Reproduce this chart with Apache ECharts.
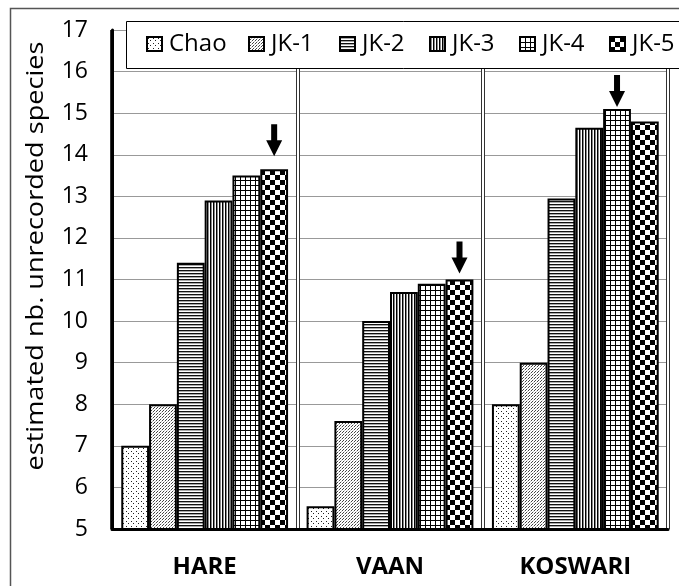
<!DOCTYPE html>
<html>
<head>
<meta charset="utf-8">
<script src="https://cdn.jsdelivr.net/npm/echarts@6/dist/echarts.min.js"></script>
<style>
html,body{margin:0;padding:0;background:#fff;}
#chart{width:679px;height:586px;}
</style>
</head>
<body>
<div id="chart"></div>
<script>
// ---- data ----
const categories = ['HARE', 'VAAN', 'KOSWARI'];
const seriesNames = ['Chao', 'JK-1', 'JK-2', 'JK-3', 'JK-4', 'JK-5'];
const chao = [7.0, 5.55, 8.0];
const jk1 = [8.0, 7.6, 9.0];
const jk2 = [11.4, 10.0, 12.95];
const jk3 = [12.9, 10.7, 14.65];
const jk4 = [13.5, 10.9, 15.1];
const jk5 = [13.65, 11.0, 14.8];
const yTicks = { min: 5, max: 17, interval: 1 };
// arrows: [series name, category, value]
const arrowMarks = [
  ['JK-5', 'HARE', 13.65],
  ['JK-5', 'VAAN', 11.0],
  ['JK-4', 'KOSWARI', 15.1]
];

// ---- patterns ----
function makePattern(w, h, draw) {
  const c = document.createElement('canvas');
  c.width = w; c.height = h;
  const ctx = c.getContext('2d');
  ctx.fillStyle = '#fff';
  ctx.fillRect(0, 0, w, h);
  ctx.fillStyle = '#000';
  draw(ctx);
  return { image: c, repeat: 'repeat' };
}
const patterns = [
  // Chao: sparse dots
  makePattern(5, 5, ctx => { ctx.fillStyle = '#222'; ctx.fillRect(1, 1, 1, 1); ctx.fillRect(3, 3, 1, 1); }),
  // JK-1: dense dots
  makePattern(3, 3, ctx => { ctx.fillStyle = '#444'; ctx.fillRect(0, 0, 1, 1); ctx.fillRect(1, 2, 1, 1); ctx.fillStyle = '#bbb'; ctx.fillRect(2, 1, 1, 1); }),
  // JK-2: horizontal lines
  makePattern(2, 3, ctx => { ctx.fillStyle = '#111'; ctx.fillRect(0, 0, 2, 1); ctx.fillStyle = '#aaa'; ctx.fillRect(0, 1, 2, 1); }),
  // JK-3: vertical lines
  makePattern(3, 2, ctx => { ctx.fillStyle = '#000'; ctx.fillRect(0, 0, 1, 2); ctx.fillStyle = '#888'; ctx.fillRect(1, 0, 1, 2); }),
  // JK-4: grid
  makePattern(5, 5, ctx => { ctx.fillStyle = '#000'; ctx.fillRect(0, 0, 5, 1); ctx.fillRect(0, 0, 1, 5); }),
  // JK-5: checkerboard
  makePattern(10, 10, ctx => { ctx.fillStyle = '#000'; ctx.fillRect(0, 0, 5, 5); ctx.fillRect(5, 5, 5, 5); })
];

const values = [chao, jk1, jk2, jk3, jk4, jk5];
const arrowPath = 'path://M5,0L11,0L11,16L16,16L8,32L0,16L5,16Z';
const arrowOffsets = { HARE: -29, VAAN: -22, KOSWARI: -18 };
const legendLefts = [146, 248, 339, 429, 519, 609];

const FONT = '"Open Sans", "DejaVu Sans", sans-serif';

const series = seriesNames.map((name, i) => {
  const s = {
    name: name,
    type: 'bar',
    xAxisIndex: 0,
    yAxisIndex: 0,
    data: values[i],
    barGap: '0%',
    barCategoryGap: '10%',
    itemStyle: { color: patterns[i], borderColor: '#000', borderWidth: 2 },
    emphasis: { disabled: true },
    animation: false
  };
  const marks = arrowMarks.filter(a => a[0] === name);
  if (marks.length) {
    s.markPoint = {
      animation: false,
      data: marks.map(a => ({
        coord: [a[1], a[2]],
        symbol: arrowPath,
        symbolSize: [16, 32],
        symbolOffset: [0, arrowOffsets[a[1]]],
        itemStyle: { color: '#000' },
        label: { show: false }
      }))
    };
  }
  return s;
});

const legends = seriesNames.map((name, i) => ({
  data: [name],
  left: legendLefts[i],
  top: 32,
  padding: 0,
  z: 6,
  itemWidth: 15,
  itemHeight: 14,
  itemGap: 0,
  icon: 'rect',
  textStyle: { fontFamily: FONT, fontSize: 24, lineHeight: 24, color: '#000', padding: [0, 0, 0, 2] },
  selectedMode: false
}));

const chart = echarts.init(document.getElementById('chart'), null, { renderer: 'canvas' });
chart.setOption({
  backgroundColor: '#fff',
  animation: false,
  textStyle: { fontFamily: FONT },
  grid: { left: 112, right: 11, top: 30, bottom: 57, containLabel: false },
  legend: legends,
  xAxis: [
    {
      type: 'category',
      data: categories,
      position: 'bottom',
      axisLine: { show: true, lineStyle: { color: '#000', width: 3 } },
      axisTick: { show: false },
      axisLabel: { fontFamily: FONT, fontSize: 24, fontWeight: 'bold', color: '#000', margin: 26 },
      splitLine: { show: true, lineStyle: { color: '#333', width: 4 } }
    },
    {
      type: 'category',
      data: categories,
      position: 'top',
      axisLine: { show: false },
      axisTick: { show: false },
      axisLabel: { show: false },
      splitLine: { show: true, lineStyle: { color: '#fff', width: 2 } }
    }
  ],
  yAxis: {
    type: 'value',
    min: yTicks.min,
    max: yTicks.max,
    interval: yTicks.interval,
    axisLine: { show: true, lineStyle: { color: '#000', width: 3 } },
    axisTick: { show: false },
    axisLabel: { fontFamily: FONT, fontSize: 23, color: '#000', margin: 24 },
    splitLine: { show: true, lineStyle: { color: '#999', width: 1 } }
  },
  graphic: [
    {
      type: 'rect',
      z: -10,
      silent: true,
      shape: { x: 10.5, y: 8.5, width: 700, height: 600 },
      style: { fill: null, stroke: '#555', lineWidth: 1.5 }
    },
    {
      type: 'rect',
      z: 5,
      silent: true,
      shape: { x: 126.5, y: 21.5, width: 600, height: 47 },
      style: { fill: '#fff', stroke: '#000', lineWidth: 1 }
    },
    {
      type: 'text',
      silent: true,
      x: 36,
      y: 256,
      rotation: Math.PI / 2,
      scaleX: 1.13,
      style: {
        text: 'estimated nb. unrecorded species',
        fontFamily: FONT,
        fontSize: 24,
        fill: '#000',
        align: 'center',
        verticalAlign: 'middle'
      }
    }
  ],
  series: series
});
</script>
</body>
</html>
